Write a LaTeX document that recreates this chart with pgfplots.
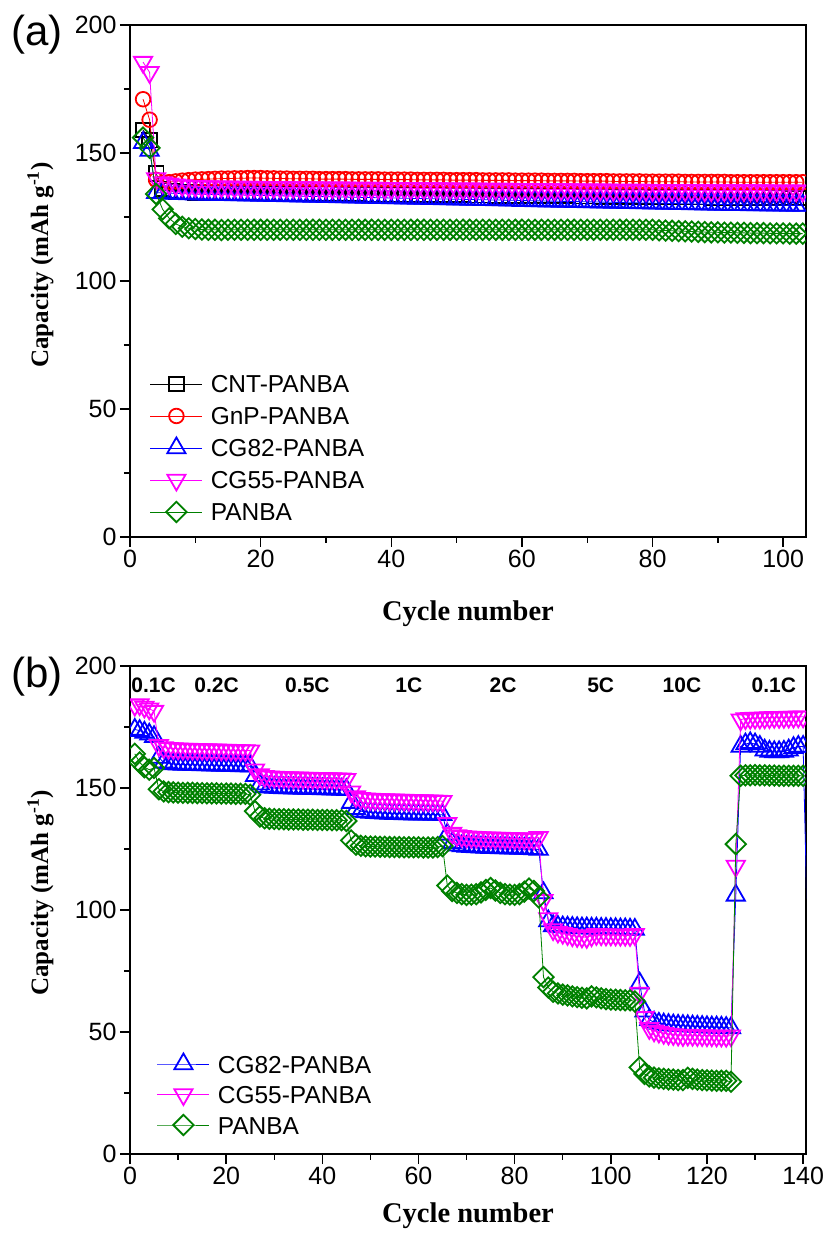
\documentclass[border=0pt]{standalone}
\usepackage{fontspec}
\setmainfont{Liberation Sans}
\newfontfamily\timesfont{Liberation Serif}
\usepackage{pgfplots}
\usepackage{pgfplotstable}
\pgfplotsset{compat=1.18}

\definecolor{cblue}{RGB}{0,0,255}
\definecolor{cred}{RGB}{255,0,0}
\definecolor{cmag}{RGB}{255,0,255}
\definecolor{cgreen}{RGB}{0,128,0}

\pgfplotstableread{
c cnt gnp cg82 cg55 panba
2 159 171 154 185.5 156
3 155 163 151 181.5 152
4 142 139.5 134.5 140 134
5 136 138.3 134.4 138.5 128
6 135.2 138.6 134.3 138 124.5
7 135 138.9 134.2 137.6 122.3
8 134.8 139.2 134.1 137.3 121.2
9 134.7 139.4 134 137.1 120.6
10 134.6 139.6 133.9 137 120.3
11 134.6 139.7 133.9 136.9 120.1
12 134.5 139.8 133.8 136.9 120
13 134.5 139.9 133.8 136.8 120
14 134.5 140 133.7 136.8 119.9
15 134.5 140 133.7 136.8 120
16 134.4 140.1 133.6 136.7 120
17 134.4 140.1 133.6 136.7 120
18 134.4 140.2 133.5 136.7 120
19 134.4 140.2 133.5 136.7 120
20 134.3 140.2 133.4 136.6 120
21 134.3 140.1 133.4 136.6 120
22 134.3 140.1 133.3 136.6 120
23 134.3 140 133.3 136.6 120
24 134.2 140 133.2 136.5 120
25 134.2 139.9 133.2 136.5 120
26 134.2 139.9 133.1 136.5 120
27 134.2 139.9 133.1 136.5 120
28 134.1 139.9 133.0 136.5 120
29 134.1 139.8 133.0 136.4 120
30 134.1 139.8 132.9 136.4 120
31 134.1 139.8 132.9 136.4 120
32 134.0 139.8 132.8 136.4 120
33 134.0 139.8 132.8 136.4 120
34 134.0 139.7 132.7 136.3 120
35 134.0 139.7 132.7 136.3 120
36 133.9 139.7 132.6 136.3 120
37 133.9 139.7 132.6 136.3 120
38 133.9 139.7 132.5 136.3 120
39 133.9 139.6 132.5 136.2 120
40 133.8 139.6 132.4 136.2 120
41 133.8 139.6 132.4 136.2 120
42 133.8 139.6 132.3 136.2 120
43 133.8 139.6 132.3 136.2 120
44 133.7 139.5 132.2 136.1 120
45 133.7 139.5 132.2 136.1 120
46 133.7 139.5 132.1 136.1 120
47 133.7 139.5 132.1 136.1 120
48 133.6 139.5 132.0 136.1 120
49 133.6 139.4 132.0 136.0 120
50 133.6 139.4 131.9 136.0 120
51 133.6 139.4 131.9 136.0 120
52 133.5 139.4 131.8 136.0 120
53 133.5 139.4 131.8 136.0 120
54 133.5 139.3 131.7 135.9 120
55 133.5 139.3 131.7 135.9 120
56 133.4 139.3 131.6 135.9 120
57 133.4 139.3 131.6 135.9 120
58 133.4 139.3 131.5 135.9 120
59 133.4 139.2 131.5 135.8 120
60 133.3 139.2 131.4 135.8 120
61 133.3 139.2 131.4 135.8 120
62 133.3 139.2 131.3 135.8 120
63 133.3 139.2 131.3 135.8 120
64 133.2 139.1 131.2 135.7 120
65 133.2 139.1 131.2 135.7 120
66 133.2 139.1 131.1 135.7 120
67 133.2 139.1 131.1 135.7 120
68 133.1 139.1 131.0 135.7 120
69 133.1 139.0 131.0 135.6 120
70 133.1 139.0 130.9 135.6 120
71 133.1 139.0 130.9 135.6 120
72 133.0 139.0 130.8 135.6 120
73 133.0 139.0 130.8 135.6 120
74 133.0 138.9 130.7 135.5 120
75 133.0 138.9 130.7 135.5 120
76 132.9 138.9 130.6 135.5 120
77 132.9 138.9 130.6 135.5 120
78 132.9 138.9 130.5 135.5 120
79 132.9 138.8 130.5 135.5 120
80 132.8 138.8 130.4 135.4 120
81 132.8 138.8 130.4 135.4 119.8
82 132.8 138.8 130.3 135.4 119.7
83 132.8 138.8 130.3 135.4 119.6
84 132.7 138.8 130.2 135.4 119.5
85 132.7 138.7 130.2 135.4 119.4
86 132.7 138.7 130.1 135.4 119.3
87 132.7 138.7 130.1 135.4 119.2
88 132.7 138.7 130.0 135.3 119.1
89 132.6 138.7 130.0 135.3 119.0
90 132.6 138.7 129.9 135.3 119.0
91 132.6 138.7 129.9 135.3 118.9
92 132.6 138.6 129.8 135.3 118.9
93 132.6 138.6 129.8 135.3 118.8
94 132.6 138.6 129.8 135.3 118.8
95 132.5 138.6 129.7 135.3 118.7
96 132.5 138.6 129.7 135.3 118.7
97 132.5 138.6 129.7 135.3 118.7
98 132.5 138.6 129.6 135.2 118.6
99 132.5 138.6 129.6 135.2 118.6
100 132.5 138.6 129.6 135.2 118.6
101 132.4 138.6 129.5 135.2 118.5
102 132.4 138.6 129.5 135.2 118.5
103 132.4 138.6 129.5 135.2 118.5
}\tabA

\pgfplotstableread{
c cg82 cg55 panba
1 174 184 164
2 173.5 184.2 160.5
3 172.8 183.2 158.5
4 172 182.5 157.5
5 171 181.5 158.2
6 162.5 167.5 149.5
7 160.5 166.6 148.6
8 160 166.3 148.3
9 159.8 166.2 148.2
10 159.7 166.1 148.1
11 159.6 166 148
12 159.6 166 148
13 159.5 165.9 148
14 159.5 165.9 147.9
15 159.4 165.8 147.9
16 159.4 165.8 147.8
17 159.3 165.7 147.8
18 159.3 165.7 147.8
19 159.2 165.6 147.7
20 159.2 165.6 147.7
21 159.1 165.5 147.7
22 159.1 165.5 147.6
23 159 165.4 147.6
24 159 165.4 147.6
25 158.9 165.3 147.2
26 155 157.5 140.5
27 151.5 155.5 138.3
28 150.5 154.8 137.6
29 150.3 154.6 137.4
30 150.2 154.5 137.3
31 150.1 154.4 137.2
32 150 154.3 137.2
33 150 154.3 137.1
34 149.9 154.2 137.1
35 149.9 154.2 137.1
36 149.8 154.1 137
37 149.8 154.1 137
38 149.7 154 137
39 149.7 154 136.9
40 149.6 154 136.9
41 149.6 153.9 136.9
42 149.5 153.9 136.8
43 149.5 153.8 136.8
44 149.4 153.8 136.8
45 149.3 153.6 136.5
46 144 148.5 128.5
47 141.5 146.5 126.8
48 140.5 145.8 126.3
49 140.2 145.6 126.1
50 140 145.5 126
51 139.9 145.4 126
52 139.8 145.3 125.9
53 139.7 145.3 125.9
54 139.6 145.2 125.8
55 139.5 145.2 125.8
56 139.5 145.1 125.8
57 139.4 145.1 125.7
58 139.4 145 125.7
59 139.3 145 125.7
60 139.3 144.9 125.7
61 139.2 144.9 125.6
62 139.2 144.8 125.6
63 139.1 144.8 125.6
64 139.1 144.7 125.8
65 139 144.6 126.2
66 131 135.5 110
67 127.5 131.5 107.8
68 126.5 130.5 107
69 126.2 130.2 106.5
70 126 130 106.2
71 125.9 129.9 106.3
72 125.8 129.8 106.5
73 125.7 129.7 107.2
74 125.6 129.6 108.2
75 125.5 129.6 109
76 125.5 129.5 108
77 125.4 129.5 107
78 125.4 129.4 106.5
79 125.3 129.4 106.3
80 125.3 129.3 106.2
81 125.2 129.3 106.5
82 125.2 129.2 107.5
83 125.1 129.2 108.8
84 125 129.1 107.8
85 124.8 129.8 105.2
86 107 104 72.5
87 95.5 96.5 68.2
88 93.5 92 66.5
89 93.2 91 65.8
90 93 90.5 65.3
91 92.9 90 65
92 92.8 89.5 64.6
93 92.7 89.2 64.3
94 92.6 89 64
95 92.6 88.8 63.8
96 92.5 89.5 64.6
97 92.5 90 64.2
98 92.4 89.9 63.8
99 92.4 89.8 63.5
100 92.3 89.8 63.3
101 92.3 89.8 63.2
102 92.2 89.7 63.1
103 92.2 89.7 63
104 92.1 89.6 63
105 92 90 62.5
106 70 66 35.5
107 58.5 56 32.8
108 55 51.5 31.8
109 54 50.5 31.3
110 53.5 50 31
111 53.2 49.5 30.8
112 53 49.2 30.6
113 52.8 49 30.5
114 52.7 48.8 30.3
115 52.6 48.6 30.3
116 52.5 48.8 31.2
117 52.4 48.7 30.8
118 52.3 48.6 30.5
119 52.2 48.6 30.3
120 52.1 48.5 30.2
121 52 48.5 30.1
122 52 48.4 30
123 51.9 48.4 30
124 51.8 48.3 30
125 51.7 48.5 29.6
126 106 118 127
127 167 178 155
128 168 178.5 155.2
129 168.5 178.6 155.2
130 168 178.7 155.3
131 167 178.7 155.2
132 165.5 178.8 155.2
133 165 178.9 155.1
134 164.8 179 155.1
135 164.8 179 155
136 165 179 155
137 165.5 179.1 155
138 166.5 179.1 155
139 167 179.2 155
140 167 179.2 155
141 82 nan nan
}\tabB

\pgfplotsset{
  myaxis/.style={
    scale only axis, width=676pt,
    ymin=0, ymax=200, ytick={0,50,...,200},
    minor x tick num=1, minor y tick num=1,
    tick pos=left, tick align=outside,
    major tick length=10pt, minor tick length=6pt,
    tick style={black, line width=1.4pt},
    axis line style={line width=1.6pt},
    tick label style={font=\fontsize{25}{30}\selectfont},
    /pgf/number format/assume math mode=true,
    xlabel={Cycle number},
    ylabel={Capacity (mAh g\textsuperscript{-1})},
    every axis x label/.style={font=\fontsize{28.5}{34}\selectfont\timesfont\bfseries, anchor=center},
    every axis y label/.style={font=\fontsize{25}{30}\selectfont\timesfont\bfseries, anchor=center, rotate=90},
    legend cell align=left,
    legend style={draw=none, fill=none, anchor=north west, inner sep=0pt, outer sep=0pt,
      font=\fontsize{24.5}{29}\selectfont, column sep=5pt,
      nodes={inner sep=3pt, text height=18pt, text depth=0pt}},
    legend image code/.code={\draw[mark repeat=2,mark phase=2,#1] plot coordinates {(0pt,0pt)(26pt,0pt)(52pt,0pt)};},
    clip marker paths=true,
  },
  sblack/.style={color=black, line width=0.8pt, mark=square, mark size=7.3pt, mark options={line width=1.8pt}},
  sred/.style={color=cred, line width=0.8pt, mark=o, mark size=7.3pt, mark options={line width=1.8pt}},
  sblue/.style={color=cblue, line width=0.8pt, mark=triangle, mark size=10.5pt, mark options={line width=1.8pt}},
  smag/.style={color=cmag, line width=0.8pt, mark=triangle, mark size=10.5pt, mark options={line width=1.8pt, rotate=180}},
  sgreen/.style={color=cgreen, line width=0.8pt, mark=square, mark size=7.2pt, mark options={line width=1.8pt, rotate=45}},
}

\begin{document}
\begin{tikzpicture}
\path[use as bounding box] (0pt,0pt) rectangle (826pt,1237pt);

% Panel (a)
\begin{axis}[myaxis, height=512pt, at={(130pt,700pt)}, anchor=south west,
  xmin=0, xmax=103.5, xtick={0,20,...,100},
  xlabel style={at={(axis description cs:0.5,-0.1494)}},
  ylabel style={at={(axis description cs:-0.1324,0.531)}},
  legend style={at={(axis description cs:0.0296,0.3223)}, row sep=8pt}]
\addplot[sblack] table[x=c,y=cnt] {\tabA};
\addlegendentry{CNT-PANBA}
\addplot[sred] table[x=c,y=gnp] {\tabA};
\addlegendentry{GnP-PANBA}
\addplot[sblue] table[x=c,y=cg82] {\tabA};
\addlegendentry{CG82-PANBA}
\addplot[smag] table[x=c,y=cg55] {\tabA};
\addlegendentry{CG55-PANBA}
\addplot[sgreen] table[x=c,y=panba] {\tabA};
\addlegendentry{PANBA}
\end{axis}

% Panel (b)
\begin{axis}[myaxis, height=488pt, at={(130pt,83pt)}, anchor=south west,
  xmin=0, xmax=140.6, xtick={0,20,...,140},
  xlabel style={at={(axis description cs:0.5,-0.127)}},
  ylabel style={at={(axis description cs:-0.1324,0.535)}},
  legend style={at={(axis description cs:0.04,0.209)}, row sep=6.5pt}]
\addplot[sblue] table[x=c,y=cg82] {\tabB};
\addlegendentry{CG82-PANBA}
\addplot[smag] table[x=c,y=cg55] {\tabB};
\addlegendentry{CG55-PANBA}
\addplot[sgreen] table[x=c,y=panba] {\tabB};
\addlegendentry{PANBA}
\begin{scope}[every node/.style={font=\fontsize{21}{25}\selectfont\bfseries}]
\node at (axis cs:4.9,192) {0.1C};
\node at (axis cs:18,192) {0.2C};
\node at (axis cs:36.9,192) {0.5C};
\node at (axis cs:58,192) {1C};
\node at (axis cs:77.6,192) {2C};
\node at (axis cs:97.9,192) {5C};
\node at (axis cs:114.8,192) {10C};
\node at (axis cs:133.9,192) {0.1C};
\end{scope}
\end{axis}

\node[font=\fontsize{42}{50}\selectfont] at (37pt,1202pt) {(a)};
\node[font=\fontsize{42}{50}\selectfont] at (37pt,560.5pt) {(b)};
\end{tikzpicture}
\end{document}
